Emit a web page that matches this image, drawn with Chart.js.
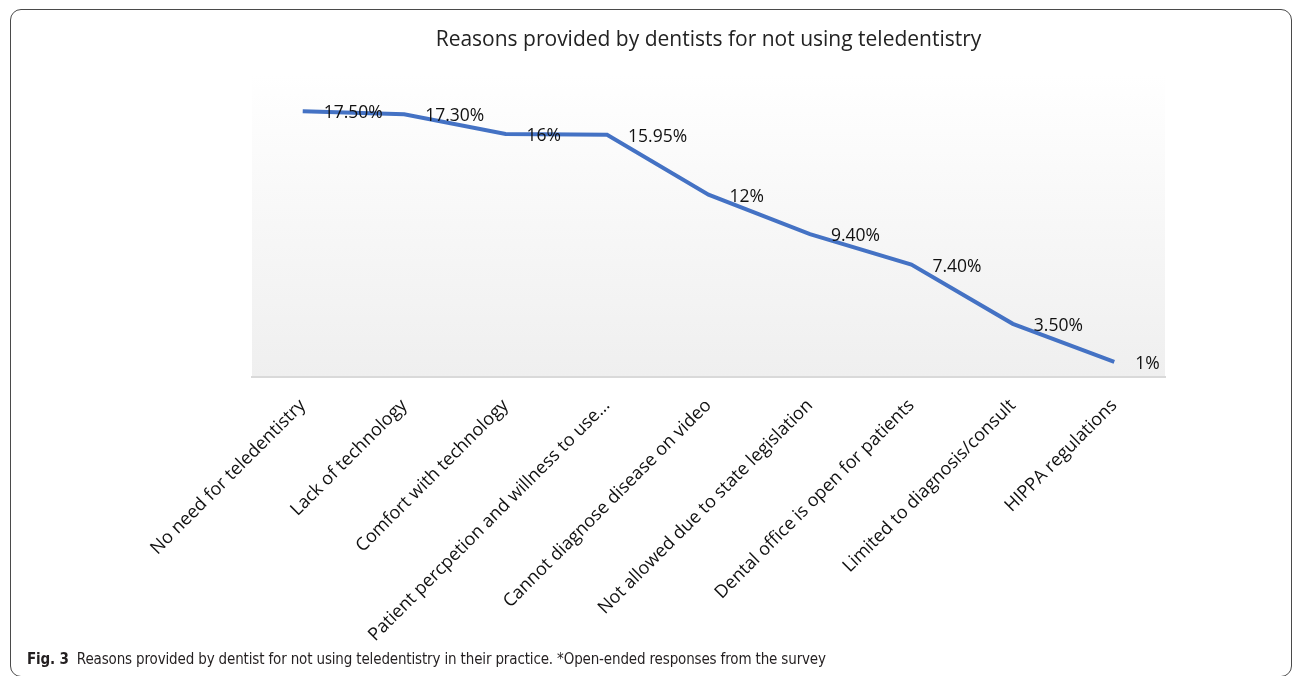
<!DOCTYPE html>
<html lang="en">
<head>
    <meta charset="UTF-8">
    <title>Reasons provided by dentists for not using teledentistry</title>
    <script src="https://cdn.jsdelivr.net/npm/chart.js"></script>
    <style>
        body {
            margin: 0;
            width: 1293px;
            height: 676px;
            overflow: hidden;
            background: #fff;
            position: relative;
        }
        .frame {
            position: absolute;
            left: 10px;
            top: 9px;
            width: 1280px;
            height: 666px;
            border: 1.5px solid #4a4a4a;
            border-radius: 11px;
        }
        .chart-box {
            position: absolute;
            left: 0;
            top: 0;
            width: 1293px;
            height: 676px;
        }
        .caption {
            position: absolute;
            left: 27px;
            top: 650px;
            font-family: "Liberation Sans Narrow", "DejaVu Sans Condensed", sans-serif;
            font-size: 15px;
            letter-spacing: -0.15px;
            color: #231f20;
            white-space: nowrap;
        }
        .caption b {
            margin-right: 8px;
        }
    </style>
</head>
<body>
<div class="frame"></div>
<div class="chart-box">
    <canvas id="lineChart"></canvas>
</div>
<div class="caption"><b>Fig. 3</b>Reasons provided by dentist for not using teledentistry in their practice. *Open-ended responses from the survey</div>

<script>
    const categories = [
        'No need for teledentistry',
        'Lack of technology',
        'Comfort with technology',
        'Patient percpetion and willness to use...',
        'Cannot diagnose disease on video',
        'Not allowed due to state legislation',
        'Dental office is open for patients',
        'Limited to diagnosis/consult',
        'HIPPA regulations'
    ];
    const percentValues = [17.5, 17.3, 16, 15.95, 12, 9.4, 7.4, 3.5, 1];
    const pointLabels = ['17.50%', '17.30%', '16%', '15.95%', '12%', '9.40%', '7.40%', '3.50%', '1%'];

    // gradient behind the plot area, like the Excel chart
    const plotBackground = {
        id: 'plotBackground',
        beforeDraw(chart) {
            const { ctx, chartArea } = chart;
            const g = ctx.createLinearGradient(0, chartArea.top, 0, chartArea.bottom);
            g.addColorStop(0, '#ffffff');
            g.addColorStop(1, '#efefef');
            ctx.save();
            ctx.fillStyle = g;
            ctx.fillRect(chartArea.left, chartArea.top, chartArea.right - chartArea.left, chartArea.bottom - chartArea.top);
            ctx.restore();
        }
    };

    // value labels to the right of each point
    const valueLabels = {
        id: 'valueLabels',
        afterDatasetsDraw(chart) {
            const { ctx } = chart;
            const meta = chart.getDatasetMeta(0);
            ctx.save();
            ctx.font = '17.5px "Open Sans", sans-serif';
            ctx.fillStyle = '#111';
            ctx.textAlign = 'left';
            ctx.textBaseline = 'middle';
            meta.data.forEach((pt, i) => {
                ctx.fillText(pointLabels[i], pt.x + 21, pt.y + 2);
            });
            ctx.restore();
        }
    };

    const ctxLine = document.getElementById('lineChart').getContext('2d');
    const lineChart = new Chart(ctxLine, {
        type: 'line',
        data: {
            labels: categories,
            datasets: [{
                label: 'Reasons',
                data: percentValues,
                borderColor: '#4472C4',
                borderWidth: 4,
                pointRadius: 0,
                tension: 0,
                fill: false
            }]
        },
        options: {
            responsive: true,
            maintainAspectRatio: false,
            animation: false,
            layout: {
                padding: { left: 252, right: 128, top: 27, bottom: 0 }
            },
            plugins: {
                legend: { display: false },
                tooltip: { enabled: false },
                title: {
                    display: true,
                    text: 'Reasons provided by dentists for not using teledentistry',
                    color: '#222',
                    font: { family: '"Open Sans", sans-serif', size: 21, weight: 'normal' },
                    padding: { top: 0, bottom: 21 }
                }
            },
            scales: {
                x: {
                    offset: true,
                    grid: { display: false, drawTicks: false },
                    border: { display: true, color: '#d9d9d9', width: 2 },
                    afterFit(scale) { scale.height = 299; },
                    ticks: {
                        autoSkip: false,
                        minRotation: 45,
                        maxRotation: 45,
                        padding: 18,
                        color: '#111',
                        font: { family: '"Open Sans", sans-serif', size: 18 }
                    }
                },
                y: {
                    display: false,
                    min: 0,
                    max: 20
                }
            }
        },
        plugins: [plotBackground, valueLabels]
    });
</script>
</body>
</html>
